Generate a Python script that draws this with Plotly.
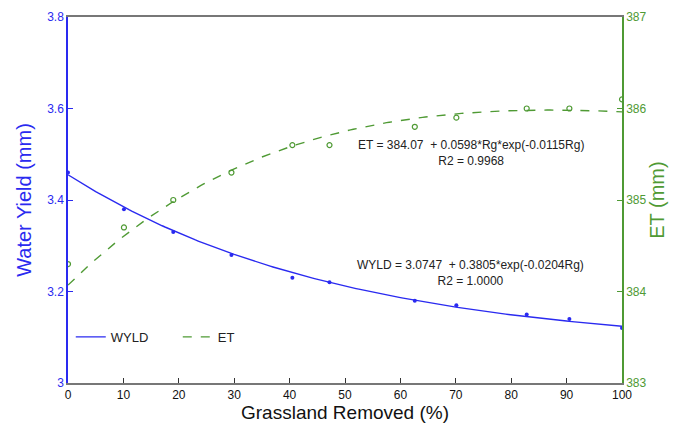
import numpy as np
import plotly.graph_objects as go

rg = [0, 10.1, 19.0, 29.5, 40.5, 47.2, 62.6, 70.1, 82.8, 90.5, 100]
wyld = [3.46, 3.38, 3.33, 3.28, 3.23, 3.22, 3.18, 3.17, 3.15, 3.14, 3.12]
et = [384.3, 384.7, 385.0, 385.3, 385.6, 385.6, 385.8, 385.9, 386.0, 386.0, 386.1]

# fitted curves from the equations shown on the chart
xf = np.linspace(0, 100, 201)
wyld_fit = 3.0747 + 0.3805 * np.exp(-0.0204 * xf)
et_fit = 384.07 + 0.0598 * xf * np.exp(-0.0115 * xf)

blue = "#2a2af0"
green = "#4f9a34"
font = "Liberation Sans, Arial, sans-serif"

fig = go.Figure()
fig.add_trace(go.Scatter(x=xf, y=wyld_fit, mode="lines", name="WYLD",
                         line=dict(color=blue, width=1.4)))
fig.add_trace(go.Scatter(x=xf, y=et_fit, mode="lines", name="ET", yaxis="y2",
                         line=dict(color=green, width=1.4, dash="dash")))
fig.add_trace(go.Scatter(x=rg, y=wyld, mode="markers", showlegend=False,
                         marker=dict(color=blue, size=4, symbol="circle")))
fig.add_trace(go.Scatter(x=rg, y=et, mode="markers", showlegend=False, yaxis="y2",
                         marker=dict(color=green, size=5, symbol="circle-open",
                                     line=dict(width=1.2))))

fig.add_annotation(x=0.727, y=0.628, xref="paper", yref="paper", showarrow=False,
                   xanchor="center", yanchor="middle",
                   text="ET = 384.07  + 0.0598*Rg*exp(-0.0115Rg)<br>R2 = 0.9968",
                   font=dict(family=font, size=12, color="#222"), align="center")
fig.add_annotation(x=0.727, y=0.30, xref="paper", yref="paper", showarrow=False,
                   xanchor="center", yanchor="middle",
                   text="WYLD = 3.0747  + 0.3805*exp(-0.0204Rg)<br>R2 = 1.0000",
                   font=dict(family=font, size=12, color="#222"), align="center")

# page body has an 8px margin, so the figure is 8px smaller and margins are shifted
fig.update_layout(
    width=672, height=417,
    margin=dict(l=60, r=58, t=9, b=42),
    paper_bgcolor="white", plot_bgcolor="white",
    font=dict(family=font, size=12),
    showlegend=True,
    legend=dict(orientation="h", x=0.005, y=0.126, xanchor="left", yanchor="middle",
                bgcolor="rgba(0,0,0,0)", font=dict(size=13, color="#222"),
                entrywidth=62, entrywidthmode="pixels",
                itemwidth=30, tracegroupgap=0),
    xaxis=dict(range=[0, 100], tickvals=list(range(0, 101, 10)), ticks="inside",
               ticklen=5, tickcolor="#333", showline=True, linecolor="#777",
               linewidth=1.5, mirror=True, showgrid=False, zeroline=False,
               automargin=False,
               tickfont=dict(size=12, color="#111"),
               title=dict(text="Grassland Removed (%)", font=dict(size=19, color="#111"),
                          standoff=1)),
    yaxis=dict(range=[3, 3.8], tickvals=[3, 3.2, 3.4, 3.6, 3.8],
               ticktext=["3", "3.2", "3.4", "3.6", "3.8"], ticks="inside",
               ticklen=5, tickcolor=blue, showline=True, linecolor=blue, linewidth=1.5,
               showgrid=False, zeroline=False, automargin=False,
               tickfont=dict(size=12, color=blue),
               title=dict(text="Water Yield (mm)", font=dict(size=20, color=blue),
                          standoff=10)),
    yaxis2=dict(range=[383, 387], tickvals=[383, 384, 385, 386, 387], overlaying="y",
                side="right", ticks="inside", ticklen=5, tickcolor=green,
                showline=True, linecolor=green, linewidth=1.5, showgrid=False,
                zeroline=False, automargin=False,
                tickfont=dict(size=12, color=green),
                title=dict(text="ET (mm)", font=dict(size=20, color=green), standoff=5)),
)

fig.write_html("out.html")
